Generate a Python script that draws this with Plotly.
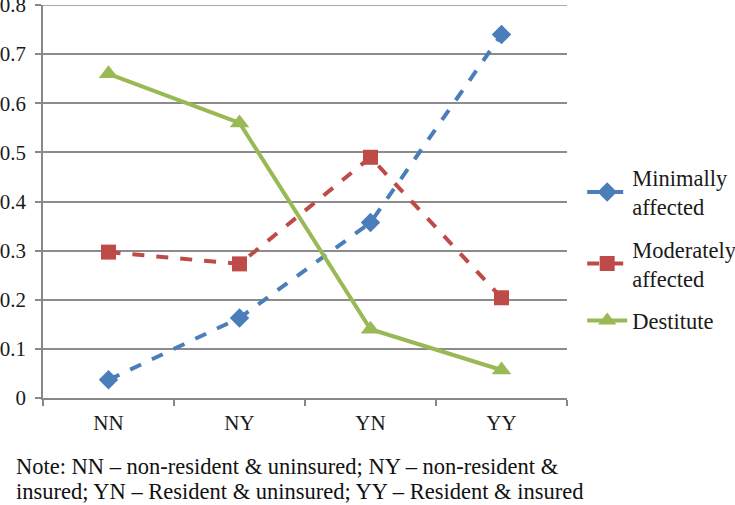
import plotly.graph_objects as go

categories = ["NN", "NY", "YN", "YY"]
minimally = [0.037, 0.163, 0.357, 0.74]
moderately = [0.297, 0.273, 0.49, 0.204]
destitute = [0.66, 0.56, 0.14, 0.057]
series_names = ["Minimally<br>affected", "Moderately<br>affected", "Destitute"]
y_ticks = [0, 0.1, 0.2, 0.3, 0.4, 0.5, 0.6, 0.7, 0.8]
note_lines = [
    "Note: NN – non-resident & uninsured; NY – non-resident &",
    "insured; YN – Resident & uninsured; YY – Resident & insured",
]

FONT = "Times New Roman, Liberation Serif, DejaVu Serif, serif"

fig = go.Figure()
fig.add_trace(go.Scatter(
    x=categories, y=minimally, name=series_names[0], mode="lines+markers",
    line=dict(color="#4a7ebb", width=4, dash="dash"),
    marker=dict(symbol="diamond", size=15, color="#4a7ebb"),
    legendgroup="a"))
fig.add_trace(go.Scatter(
    x=categories, y=moderately, name=series_names[1], mode="lines+markers",
    line=dict(color="#be4b48", width=4, dash="dash"),
    marker=dict(symbol="square", size=15, color="#be4b48"),
    legendgroup="b"))
fig.add_trace(go.Scatter(
    x=categories, y=destitute, name=series_names[2], mode="lines+markers",
    line=dict(color="#98b954", width=4),
    marker=dict(symbol="triangle-up", size=17, color="#98b954"),
    legendgroup="c"))

fig.update_layout(
    width=735, height=505,
    margin=dict(l=43, r=168, t=5, b=107, autoexpand=False),
    paper_bgcolor="white", plot_bgcolor="white",
    font=dict(family=FONT, size=21, color="#1a1a1a"),
    legend=dict(x=1.029, y=0.615, xanchor="left", yanchor="top",
                font=dict(family=FONT, size=22.5),
                tracegroupgap=10, traceorder="grouped", itemwidth=40),
    xaxis=dict(type="category", range=[-0.5, 3.5], showgrid=False,
               showline=True, linecolor="#888", linewidth=1.5,
               ticks="outside", tickson="boundaries", ticklen=6, tickcolor="#888",
               tickwidth=1.5, tickfont=dict(family=FONT, size=21), automargin=False,
               ticklabelstandoff=5),
    yaxis=dict(range=[0, 0.8], tickvals=y_ticks, ticktext=[("%g" % v) for v in y_ticks],
               showgrid=True, gridcolor="#8c8c8c", gridwidth=1.5,
               showline=True, linecolor="#888", linewidth=1.5,
               ticks="outside", ticklen=6, tickcolor="#888", tickwidth=1.5,
               zeroline=False, tickfont=dict(family=FONT, size=21), automargin=False,
               ticklabeloverflow="allow", ticklabelstandoff=5),
)
fig.add_shape(type="line", xref="paper", yref="y", x0=0, x1=1, y0=0.8, y1=0.8,
              line=dict(color="#8c8c8c", width=1.5))

for i, line in enumerate(note_lines):
    fig.add_annotation(text=line, xref="paper", yref="paper",
                       x=-0.056, y=-0.175 - i * 0.064, xanchor="left", yanchor="middle",
                       showarrow=False, font=dict(family=FONT, size=22.5, color="#111"))

fig.write_html("out.html", config={"displayModeBar": False},
               post_script="document.body.style.margin='0';document.body.style.padding='0';")
